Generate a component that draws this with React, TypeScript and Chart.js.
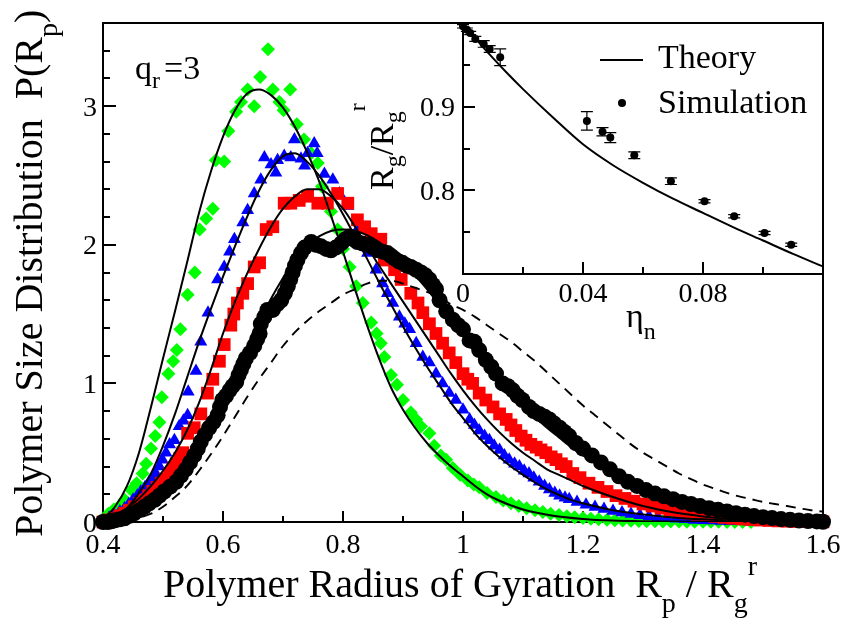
import React, { useEffect, useRef } from "react";
import { Chart, registerables } from "chart.js";

Chart.register(...registerables);

const SERIF = '"Liberation Serif", "Times New Roman", Times, serif';

// ---------------- main chart axes ----------------
const xMajorTicks = [0.4, 0.6, 0.8, 1.0, 1.2, 1.4, 1.6];
const xTickLabels = ["0.4", "0.6", "0.8", "1", "1.2", "1.4", "1.6"];
const xMinorTicks = [0.5, 0.7, 0.9, 1.1, 1.3, 1.5];
const yMajorTicks = [0, 1, 2, 3];
const yTickLabels = ["0", "1", "2", "3"];
const yMinorTicks = [0.2, 0.4, 0.6, 0.8, 1.2, 1.4, 1.6, 1.8, 2.2, 2.4, 2.6, 2.8, 3.2, 3.4];

// ---------------- main chart data ----------------
const greenSim = [[0.400,0.02],[0.409,0.06],[0.418,0.09],[0.426,0.11],[0.436,0.16],[0.447,0.23],[0.456,0.28],[0.466,0.35],[0.472,0.42],[0.480,0.53],[0.487,0.62],[0.494,0.72],[0.498,0.90],[0.509,1.07],[0.517,1.16],[0.523,1.24],[0.529,1.39],[0.541,1.64],[0.553,1.80],[0.561,2.11],[0.572,2.19],[0.583,2.26],[0.588,2.61],[0.602,2.60],[0.609,2.82],[0.622,2.96],[0.630,3.03],[0.641,3.12],[0.652,3.00],[0.662,3.21],[0.675,3.41],[0.683,3.12],[0.694,3.03],[0.701,2.97],[0.712,3.12],[0.723,2.87],[0.735,2.76],[0.747,2.66],[0.758,2.59],[0.765,2.42],[0.780,2.24],[0.791,2.11],[0.800,1.97],[0.811,1.84],[0.822,1.70],[0.833,1.58],[0.847,1.44],[0.856,1.36],[0.863,1.29],[0.869,1.19],[0.880,1.06],[0.890,0.99],[0.900,0.88],[0.913,0.79],[0.922,0.74],[0.930,0.69],[0.944,0.64],[0.952,0.55],[0.963,0.48],[0.972,0.45],[0.983,0.39],[0.995,0.34],[1.008,0.30],[1.018,0.27],[1.027,0.25],[1.040,0.21],[1.055,0.18],[1.067,0.155],[1.080,0.135],[1.093,0.115],[1.106,0.10],[1.120,0.085],[1.133,0.072],[1.146,0.06],[1.160,0.05],[1.173,0.042],[1.186,0.035],[1.200,0.029],[1.213,0.024],[1.226,0.02],[1.240,0.016],[1.253,0.013],[1.266,0.011],[1.280,0.009],[1.293,0.007],[1.306,0.006],[1.320,0.005],[1.333,0.004],[1.346,0.003],[1.360,0.003],[1.373,0.002],[1.386,0.002],[1.400,0.001],[1.413,0.001],[1.426,0.001],[1.440,0.0],[1.453,0.0],[1.466,0.0],[1.480,0.0]];

const blueSim = [[0.400,0.01],[0.410,0.03],[0.419,0.05],[0.428,0.075],[0.436,0.10],[0.443,0.13],[0.450,0.16],[0.457,0.19],[0.463,0.22],[0.470,0.25],[0.477,0.29],[0.483,0.32],[0.488,0.35],[0.494,0.40],[0.499,0.45],[0.505,0.50],[0.511,0.56],[0.519,0.59],[0.527,0.69],[0.534,0.73],[0.541,0.77],[0.542,0.94],[0.555,1.09],[0.563,1.30],[0.575,1.51],[0.591,1.75],[0.602,1.84],[0.611,1.95],[0.619,2.04],[0.633,2.16],[0.641,2.25],[0.652,2.37],[0.663,2.47],[0.669,2.63],[0.680,2.58],[0.688,2.52],[0.691,2.61],[0.702,2.64],[0.713,2.63],[0.719,2.76],[0.730,2.62],[0.736,2.57],[0.741,2.66],[0.752,2.73],[0.757,2.66],[0.769,2.51],[0.783,2.47],[0.794,2.37],[0.808,2.28],[0.824,2.11],[0.841,1.94],[0.855,1.82],[0.866,1.72],[0.874,1.65],[0.883,1.58],[0.894,1.48],[0.903,1.43],[0.911,1.39],[0.922,1.29],[0.933,1.19],[0.944,1.15],[0.955,1.07],[0.966,1.00],[0.977,0.93],[0.988,0.88],[1.000,0.81],[1.011,0.74],[1.019,0.70],[1.027,0.66],[1.036,0.62],[1.044,0.59],[1.052,0.55],[1.061,0.52],[1.069,0.48],[1.077,0.45],[1.086,0.42],[1.094,0.40],[1.102,0.37],[1.110,0.35],[1.118,0.32],[1.127,0.29],[1.136,0.26],[1.144,0.235],[1.153,0.21],[1.161,0.19],[1.170,0.175],[1.177,0.165],[1.190,0.145],[1.205,0.125],[1.220,0.108],[1.235,0.093],[1.250,0.08],[1.265,0.068],[1.280,0.058],[1.295,0.049],[1.310,0.041],[1.325,0.034],[1.340,0.028],[1.355,0.023],[1.370,0.019],[1.385,0.015],[1.400,0.012],[1.415,0.01],[1.430,0.008],[1.445,0.006],[1.460,0.005],[1.475,0.004],[1.490,0.003],[1.505,0.002],[1.520,0.001],[1.535,0.001],[1.550,0.0]];

const redSim = [[0.400,0.0],[0.410,0.015],[0.419,0.027],[0.428,0.045],[0.436,0.063],[0.444,0.085],[0.452,0.11],[0.461,0.135],[0.469,0.16],[0.476,0.19],[0.483,0.22],[0.490,0.25],[0.497,0.28],[0.504,0.31],[0.511,0.35],[0.517,0.39],[0.522,0.42],[0.528,0.46],[0.533,0.50],[0.541,0.64],[0.552,0.68],[0.563,0.78],[0.574,0.93],[0.583,1.03],[0.594,1.16],[0.602,1.28],[0.613,1.42],[0.618,1.50],[0.624,1.58],[0.633,1.65],[0.641,1.72],[0.652,1.84],[0.661,1.87],[0.672,2.11],[0.683,2.13],[0.702,2.30],[0.713,2.30],[0.727,2.32],[0.741,2.35],[0.758,2.30],[0.774,2.30],[0.791,2.37],[0.808,2.30],[0.824,2.18],[0.836,2.13],[0.847,2.08],[0.863,2.04],[0.869,1.89],[0.886,1.82],[0.897,1.75],[0.913,1.65],[0.925,1.58],[0.933,1.51],[0.944,1.43],[0.955,1.36],[0.966,1.29],[0.977,1.22],[0.988,1.15],[1.000,1.07],[1.008,1.03],[1.016,1.00],[1.027,0.93],[1.038,0.88],[1.050,0.83],[1.061,0.78],[1.072,0.74],[1.080,0.70],[1.088,0.66],[1.097,0.62],[1.105,0.59],[1.113,0.56],[1.122,0.54],[1.130,0.52],[1.138,0.50],[1.147,0.47],[1.155,0.45],[1.164,0.42],[1.172,0.40],[1.183,0.35],[1.195,0.32],[1.210,0.28],[1.225,0.25],[1.240,0.22],[1.255,0.19],[1.270,0.17],[1.285,0.15],[1.300,0.13],[1.315,0.115],[1.330,0.10],[1.345,0.088],[1.360,0.076],[1.375,0.065],[1.390,0.055],[1.405,0.047],[1.420,0.04],[1.435,0.033],[1.450,0.027],[1.465,0.022],[1.480,0.018],[1.495,0.014],[1.510,0.011],[1.525,0.008],[1.540,0.006],[1.555,0.004],[1.570,0.003],[1.585,0.002],[1.600,0.001]];

const blackSim = [[0.400,0.0],[0.408,0.0],[0.414,0.005],[0.420,0.012],[0.428,0.02],[0.436,0.027],[0.444,0.045],[0.452,0.063],[0.461,0.085],[0.469,0.11],[0.477,0.135],[0.486,0.16],[0.494,0.19],[0.502,0.22],[0.512,0.255],[0.522,0.29],[0.530,0.335],[0.538,0.38],[0.545,0.43],[0.552,0.48],[0.558,0.53],[0.563,0.58],[0.570,0.63],[0.577,0.68],[0.584,0.72],[0.591,0.77],[0.595,0.83],[0.599,0.88],[0.605,0.91],[0.611,0.95],[0.616,0.98],[0.622,1.01],[0.626,1.06],[0.630,1.10],[0.634,1.14],[0.638,1.18],[0.645,1.22],[0.652,1.27],[0.657,1.32],[0.661,1.36],[0.663,1.43],[0.669,1.48],[0.674,1.53],[0.683,1.53],[0.690,1.57],[0.697,1.60],[0.703,1.65],[0.708,1.70],[0.712,1.75],[0.716,1.80],[0.720,1.85],[0.724,1.89],[0.730,1.94],[0.736,1.98],[0.747,2.02],[0.755,2.00],[0.763,1.99],[0.772,1.97],[0.780,1.96],[0.788,1.98],[0.797,2.01],[0.804,2.04],[0.811,2.06],[0.818,2.04],[0.824,2.02],[0.832,2.01],[0.841,2.00],[0.850,1.98],[0.858,1.96],[0.866,1.95],[0.874,1.94],[0.880,1.92],[0.886,1.90],[0.893,1.88],[0.899,1.87],[0.906,1.85],[0.913,1.84],[0.922,1.82],[0.930,1.80],[0.937,1.78],[0.944,1.75],[0.950,1.71],[0.955,1.68],[0.961,1.60],[0.972,1.52],[0.983,1.46],[0.992,1.42],[1.000,1.39],[1.011,1.31],[1.019,1.30],[1.027,1.24],[1.038,1.17],[1.047,1.12],[1.055,1.07],[1.066,1.00],[1.075,0.98],[1.083,0.95],[1.091,0.91],[1.099,0.88],[1.110,0.83],[1.118,0.80],[1.127,0.78],[1.136,0.76],[1.144,0.74],[1.152,0.71],[1.161,0.68],[1.169,0.65],[1.177,0.62],[1.188,0.57],[1.200,0.53],[1.215,0.48],[1.230,0.43],[1.245,0.38],[1.260,0.33],[1.275,0.29],[1.290,0.26],[1.305,0.23],[1.320,0.205],[1.335,0.185],[1.350,0.165],[1.365,0.145],[1.380,0.13],[1.395,0.115],[1.410,0.10],[1.425,0.088],[1.440,0.076],[1.455,0.064],[1.470,0.053],[1.485,0.043],[1.500,0.035],[1.515,0.028],[1.530,0.021],[1.545,0.016],[1.560,0.011],[1.575,0.007],[1.590,0.004],[1.600,0.002]];

const theoryGreen = [[0.40,0.02],[0.42,0.11],[0.44,0.26],[0.46,0.50],[0.48,0.83],[0.50,1.18],[0.52,1.52],[0.54,1.87],[0.56,2.23],[0.58,2.53],[0.60,2.78],[0.62,2.97],[0.64,3.09],[0.66,3.12],[0.68,3.08],[0.70,2.99],[0.72,2.85],[0.74,2.67],[0.76,2.46],[0.78,2.21],[0.80,1.95],[0.82,1.68],[0.84,1.42],[0.86,1.18],[0.88,0.97],[0.90,0.81],[0.92,0.68],[0.94,0.57],[0.96,0.48],[0.98,0.40],[1.00,0.33],[1.02,0.26],[1.04,0.20],[1.06,0.155],[1.08,0.12],[1.10,0.09],[1.15,0.045],[1.20,0.022],[1.25,0.01],[1.30,0.005],[1.40,0.001],[1.50,0.0]];

const theoryBlue = [[0.40,0.0],[0.42,0.03],[0.44,0.10],[0.46,0.21],[0.48,0.35],[0.50,0.55],[0.52,0.78],[0.54,1.04],[0.56,1.30],[0.58,1.54],[0.60,1.77],[0.62,1.99],[0.64,2.20],[0.66,2.39],[0.68,2.54],[0.70,2.64],[0.72,2.66],[0.74,2.60],[0.76,2.50],[0.78,2.37],[0.80,2.22],[0.82,2.06],[0.84,1.90],[0.86,1.73],[0.88,1.57],[0.90,1.41],[0.92,1.26],[0.94,1.12],[0.96,0.99],[0.98,0.86],[1.00,0.75],[1.02,0.64],[1.04,0.55],[1.06,0.47],[1.08,0.40],[1.10,0.34],[1.12,0.285],[1.14,0.235],[1.16,0.195],[1.18,0.16],[1.20,0.135],[1.25,0.085],[1.30,0.055],[1.35,0.033],[1.40,0.019],[1.45,0.01],[1.50,0.005],[1.55,0.002],[1.60,0.001]];

const theoryRed = [[0.40,0.0],[0.42,0.05],[0.44,0.10],[0.46,0.17],[0.48,0.26],[0.50,0.37],[0.52,0.50],[0.54,0.66],[0.56,0.86],[0.58,1.10],[0.60,1.36],[0.62,1.59],[0.64,1.79],[0.66,1.97],[0.68,2.13],[0.70,2.26],[0.72,2.35],[0.74,2.40],[0.76,2.40],[0.78,2.35],[0.80,2.26],[0.82,2.13],[0.84,1.99],[0.86,1.85],[0.88,1.72],[0.90,1.59],[0.92,1.46],[0.94,1.33],[0.96,1.20],[0.98,1.07],[1.00,0.95],[1.02,0.84],[1.04,0.74],[1.06,0.65],[1.08,0.57],[1.10,0.50],[1.12,0.44],[1.14,0.38],[1.16,0.34],[1.18,0.30],[1.20,0.26],[1.25,0.18],[1.30,0.115],[1.35,0.07],[1.40,0.04],[1.45,0.02],[1.50,0.008],[1.55,0.003],[1.60,0.001]];

const theoryBlack = [[0.40,0.0],[0.42,0.01],[0.44,0.03],[0.46,0.07],[0.48,0.13],[0.50,0.21],[0.52,0.30],[0.54,0.42],[0.56,0.56],[0.58,0.73],[0.60,0.90],[0.62,1.08],[0.64,1.26],[0.66,1.44],[0.68,1.61],[0.70,1.76],[0.72,1.89],[0.74,1.99],[0.76,2.06],[0.78,2.10],[0.80,2.11],[0.82,2.10],[0.84,2.07],[0.86,2.02],[0.88,1.95],[0.90,1.87],[0.92,1.78],[0.94,1.68],[0.96,1.57],[0.98,1.46],[1.00,1.35],[1.02,1.24],[1.04,1.13],[1.06,1.03],[1.08,0.93],[1.10,0.84],[1.12,0.76],[1.14,0.68],[1.16,0.61],[1.18,0.54],[1.20,0.48],[1.25,0.35],[1.30,0.25],[1.35,0.17],[1.40,0.115],[1.45,0.075],[1.50,0.047],[1.55,0.028],[1.60,0.016]];

const dashedCurve = [[0.44,0.0],[0.46,0.03],[0.48,0.06],[0.50,0.11],[0.52,0.18],[0.54,0.26],[0.56,0.37],[0.58,0.49],[0.60,0.62],[0.62,0.76],[0.64,0.90],[0.66,1.03],[0.68,1.15],[0.70,1.27],[0.72,1.37],[0.74,1.45],[0.76,1.52],[0.78,1.58],[0.80,1.64],[0.82,1.68],[0.84,1.72],[0.86,1.74],[0.88,1.74],[0.90,1.72],[0.92,1.69],[0.94,1.66],[0.96,1.62],[0.98,1.57],[1.00,1.53],[1.02,1.48],[1.04,1.42],[1.06,1.36],[1.08,1.30],[1.10,1.23],[1.12,1.16],[1.14,1.08],[1.16,1.00],[1.18,0.92],[1.20,0.84],[1.22,0.77],[1.24,0.70],[1.26,0.63],[1.28,0.56],[1.30,0.50],[1.32,0.45],[1.34,0.40],[1.36,0.35],[1.38,0.31],[1.40,0.27],[1.42,0.24],[1.44,0.21],[1.46,0.185],[1.48,0.165],[1.50,0.145],[1.52,0.13],[1.54,0.115],[1.56,0.10],[1.58,0.085],[1.60,0.075]];

// ---------------- inset axes & data ----------------
const insetXMajor = [0, 0.04, 0.08, 0.12];
const insetXLabels = ["0", "0.04", "0.08", ""];
const insetXMinor = [0.02, 0.06, 0.10];
const insetYMajor = [0.7, 0.8, 0.9, 1.0];
const insetYLabels = ["", "0.8", "0.9", ""];
const insetYMinor = [0.75, 0.85, 0.95];

const theoryEta = [0, 0.005, 0.01, 0.015, 0.02, 0.03, 0.04, 0.05, 0.06, 0.07, 0.08, 0.09, 0.10, 0.11, 0.12];
const theoryRatio = [1.0, 0.978, 0.958, 0.939, 0.921, 0.887, 0.855, 0.830, 0.809, 0.790, 0.773, 0.756, 0.740, 0.724, 0.709];

const simEta = [0.0, 0.0013, 0.0024, 0.0041, 0.0069, 0.0089, 0.0124, 0.0413, 0.0465, 0.0491, 0.0571, 0.0693, 0.0805, 0.0904, 0.1005, 0.1094];
const simRatio = [0.996, 0.992, 0.988, 0.981, 0.975, 0.969, 0.959, 0.883, 0.870, 0.863, 0.842, 0.811, 0.787, 0.769, 0.749, 0.735];
const simErr = [0.002, 0.002, 0.002, 0.003, 0.004, 0.004, 0.010, 0.011, 0.005, 0.006, 0.004, 0.004, 0.002, 0.002, 0.002, 0.002];

// ---------------- helpers ----------------
const toPts = (arr: number[][]) => arr.map(([x, y]) => ({ x, y }));

type Seg = { t: string; size: number; dy?: number; dx?: number };
function drawRich(ctx: any, segs: Seg[], x: number, y: number, angle = 0) {
  ctx.save();
  ctx.translate(x, y);
  ctx.rotate(angle);
  ctx.fillStyle = "#000";
  ctx.textAlign = "left";
  ctx.textBaseline = "alphabetic";
  let cx = 0;
  for (const s of segs) {
    cx += s.dx || 0;
    ctx.font = `${s.size}px ${SERIF}`;
    ctx.fillText(s.t, cx, s.dy || 0);
    cx += ctx.measureText(s.t).width;
  }
  ctx.restore();
}

function drawAxes(chart: any, spec: any) {
  const { ctx, chartArea: a, scales } = chart;
  const xs = scales.x;
  const ys = scales.y;
  ctx.save();
  ctx.strokeStyle = "#000";
  ctx.lineWidth = 2;
  ctx.strokeRect(a.left, a.top, a.right - a.left, a.bottom - a.top);
  ctx.beginPath();
  const xt = (vals: number[], len: number) => vals.forEach((v) => {
    const p = Math.round(xs.getPixelForValue(v));
    ctx.moveTo(p, a.bottom);
    ctx.lineTo(p, a.bottom - len);
  });
  const yt = (vals: number[], len: number) => vals.forEach((v) => {
    const p = Math.round(ys.getPixelForValue(v));
    ctx.moveTo(a.left, p);
    ctx.lineTo(a.left + len, p);
  });
  xt(spec.xMajor, spec.xMajLen);
  xt(spec.xMinor, spec.xMinLen);
  yt(spec.yMajor, spec.yMajLen);
  yt(spec.yMinor, spec.yMinLen);
  ctx.stroke();
  ctx.fillStyle = "#000";
  ctx.font = `${spec.tickFont}px ${SERIF}`;
  ctx.textBaseline = "alphabetic";
  ctx.textAlign = "center";
  spec.xMajor.forEach((v: number, i: number) => {
    const lab = spec.xLabels[i];
    if (lab) ctx.fillText(lab, xs.getPixelForValue(v), spec.xLabelBase);
  });
  ctx.textAlign = "right";
  spec.yMajor.forEach((v: number, i: number) => {
    const lab = spec.yLabels[i];
    if (lab) ctx.fillText(lab, spec.yLabelRight, ys.getPixelForValue(v) + 9.5);
  });
  ctx.restore();
}

const mainDecor = {
  id: "mainDecor",
  beforeDatasetsDraw(chart: any) {
    drawAxes(chart, {
      xMajor: xMajorTicks, xLabels: xTickLabels, xMinor: xMinorTicks,
      yMajor: yMajorTicks, yLabels: yTickLabels, yMinor: yMinorTicks,
      xMajLen: 11, xMinLen: 6, yMajLen: 13, yMinLen: 7,
      tickFont: 28, xLabelBase: 553, yLabelRight: 97,
    });
    const ctx = chart.ctx;
    drawRich(ctx, [
      { t: "Polymer Radius of Gyration  R", size: 40 },
      { t: "p", size: 28, dy: 15 },
      { t: " / R", size: 40 },
      { t: "g", size: 28, dy: 15 },
      { t: "r", size: 28, dy: -22 },
    ], 163, 597);
    drawRich(ctx, [
      { t: "Polymer Size Distribution  P(R", size: 40 },
      { t: "p", size: 28, dy: 15 },
      { t: ")", size: 40 },
    ], 42, 537, -Math.PI / 2);
    drawRich(ctx, [
      { t: "q", size: 34 },
      { t: "r", size: 24, dy: 9 },
      { t: "=3", size: 34, dx: 4 },
    ], 135, 79);
  },
};

const insetDecor = {
  id: "insetDecor",
  beforeDatasetsDraw(chart: any) {
    const { ctx, chartArea: a } = chart;
    ctx.save();
    ctx.fillStyle = "#fff";
    ctx.fillRect(a.left, a.top, a.right - a.left, a.bottom - a.top);
    ctx.restore();
    drawAxes(chart, {
      xMajor: insetXMajor, xLabels: insetXLabels, xMinor: insetXMinor,
      yMajor: insetYMajor, yLabels: insetYLabels, yMinor: insetYMinor,
      xMajLen: 12, xMinLen: 7, yMajLen: 12, yMinLen: 7,
      tickFont: 28, xLabelBase: 302, yLabelRight: 455,
    });
    drawRich(ctx, [
      { t: "R", size: 34 },
      { t: "g", size: 24, dy: 8 },
      { t: "/R", size: 34 },
      { t: "g", size: 24, dy: 8 },
      { t: "r", size: 24, dy: -28 },
    ], 393, 190, -Math.PI / 2);
    drawRich(ctx, [
      { t: "\u03b7", size: 34 },
      { t: "n", size: 24, dy: 12 },
    ], 626, 327);
    // legend
    ctx.save();
    ctx.strokeStyle = "#000";
    ctx.lineWidth = 2;
    ctx.beginPath();
    ctx.moveTo(600, 60);
    ctx.lineTo(643, 60);
    ctx.stroke();
    ctx.fillStyle = "#000";
    ctx.beginPath();
    ctx.arc(622, 103, 4, 0, Math.PI * 2);
    ctx.fill();
    ctx.restore();
    drawRich(ctx, [{ t: "Theory", size: 34 }], 658, 68);
    drawRich(ctx, [{ t: "Simulation", size: 34 }], 658, 113);
  },
  afterDatasetsDraw(chart: any) {
    const { ctx, scales } = chart;
    ctx.save();
    ctx.strokeStyle = "#000";
    ctx.lineWidth = 1.2;
    ctx.beginPath();
    simEta.forEach((e, i) => {
      const px = scales.x.getPixelForValue(e);
      const top = scales.y.getPixelForValue(simRatio[i] + simErr[i]);
      const bot = scales.y.getPixelForValue(simRatio[i] - simErr[i]);
      ctx.moveTo(px, top);
      ctx.lineTo(px, bot);
      ctx.moveTo(px - 6, top);
      ctx.lineTo(px + 6, top);
      ctx.moveTo(px - 6, bot);
      ctx.lineTo(px + 6, bot);
    });
    ctx.stroke();
    ctx.restore();
  },
};

function lineDs(data: number[][], order: number, dash: number[] = []) {
  return {
    data: toPts(data),
    showLine: true,
    borderColor: "#000",
    borderWidth: dash.length ? 1.9 : 2,
    borderDash: dash,
    pointRadius: 0,
    fill: false,
    cubicInterpolationMode: "monotone",
    order,
  };
}

function pointDs(data: number[][], color: string, style: string, radius: number, order: number) {
  return {
    data: toPts(data),
    showLine: false,
    pointStyle: style,
    pointRadius: radius,
    pointBackgroundColor: color,
    backgroundColor: color,
    pointBorderWidth: 0,
    borderWidth: 0,
    borderColor: color,
    clip: false,
    order,
  };
}

export default function App() {
  const mainRef = useRef<HTMLCanvasElement>(null);
  const insetRef = useRef<HTMLCanvasElement>(null);

  useEffect(() => {
    const main = new Chart(mainRef.current as any, {
      type: "scatter",
      data: {
        datasets: [
          lineDs(theoryGreen, 0),
          lineDs(theoryBlue, 1),
          lineDs(theoryRed, 2),
          lineDs(theoryBlack, 3),
          lineDs(dashedCurve, 4, [10, 7]),
          pointDs(blackSim, "#000000", "circle", 8, 10),
          pointDs(redSim, "#ff0000", "rect", 9, 11),
          pointDs(blueSim, "#0000ff", "triangle", 7.5, 12),
          pointDs(greenSim, "#00ff00", "rectRot", 7, 13),
        ] as any,
      },
      options: {
        animation: false,
        responsive: false,
        devicePixelRatio: 1,
        events: [],
        layout: { padding: { left: 103, right: 21, top: 23, bottom: 98 } },
        scales: {
          x: { type: "linear", min: 0.4, max: 1.6, display: false },
          y: { type: "linear", min: 0, max: 3.6, display: false },
        },
        plugins: { legend: { display: false }, tooltip: { enabled: false } },
      } as any,
      plugins: [mainDecor],
    });

    const inset = new Chart(insetRef.current as any, {
      type: "scatter",
      data: {
        datasets: [
          {
            data: theoryEta.map((x, i) => ({ x, y: theoryRatio[i] })),
            showLine: true,
            borderColor: "#000",
            borderWidth: 2,
            pointRadius: 0,
            fill: false,
            cubicInterpolationMode: "monotone",
            order: 1,
          },
          {
            data: simEta.map((x, i) => ({ x, y: simRatio[i] })),
            showLine: false,
            pointStyle: "circle",
            pointRadius: 4,
            pointBackgroundColor: "#000",
            backgroundColor: "#000",
            pointBorderWidth: 0,
            borderWidth: 0,
            clip: false,
            order: 0,
          },
        ] as any,
      },
      options: {
        animation: false,
        responsive: false,
        devicePixelRatio: 1,
        events: [],
        layout: { padding: { left: 463, right: 21, top: 23, bottom: 346 } },
        scales: {
          x: { type: "linear", min: 0, max: 0.12, display: false },
          y: { type: "linear", min: 0.7, max: 1.0, display: false },
        },
        plugins: { legend: { display: false }, tooltip: { enabled: false } },
      } as any,
      plugins: [insetDecor],
    });

    return () => {
      main.destroy();
      inset.destroy();
    };
  }, []);

  return (
    <div style={{ position: "absolute", left: 0, top: 0, width: 844, height: 620, background: "#fff" }}>
      <canvas ref={mainRef} width={844} height={620}
        style={{ position: "absolute", left: 0, top: 0, width: 844, height: 620 }} />
      <canvas ref={insetRef} width={844} height={620}
        style={{ position: "absolute", left: 0, top: 0, width: 844, height: 620 }} />
    </div>
  );
}
